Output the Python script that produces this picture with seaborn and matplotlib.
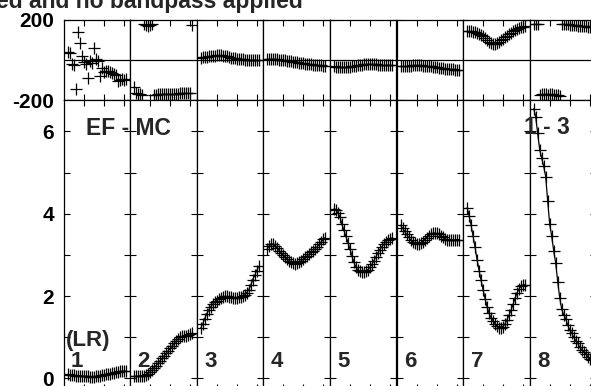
import matplotlib
matplotlib.use("Agg")
import matplotlib.pyplot as plt
import seaborn as sns

# channel numbers inside each spectral window
channels = list(range(2, 32))
spw_labels = ["1", "2", "3", "4", "5", "6", "7", "8"]

# amplitude per spectral window
amp_1 = [0.10, 0.09, 0.08, 0.08, 0.07, 0.07, 0.06, 0.06, 0.05, 0.05, 0.05, 0.04, 0.04, 0.04, 0.05,
         0.06, 0.07, 0.08, 0.09, 0.10, 0.11, 0.12, 0.13, 0.14, 0.15, 0.16, 0.17, 0.17, 0.18, 0.18]
amp_2 = [0.05, 0.05, 0.05, 0.06, 0.06, 0.07, 0.09, 0.12, 0.16, 0.21, 0.26, 0.31, 0.37, 0.43, 0.49,
         0.55, 0.61, 0.67, 0.73, 0.79, 0.85, 0.91, 0.96, 1.00, 1.02, 1.03, 1.04, 1.05, 1.07, 1.10]
amp_3 = [1.22, 1.32, 1.45, 1.57, 1.66, 1.74, 1.80, 1.85, 1.89, 1.93, 1.96, 1.98, 1.99, 1.99, 1.98,
         1.97, 1.96, 1.96, 1.96, 1.97, 1.98, 2.00, 2.03, 2.08, 2.15, 2.26, 2.40, 2.50, 2.62, 2.72]
amp_4 = [3.15, 3.22, 3.27, 3.26, 3.22, 3.16, 3.10, 3.05, 3.00, 2.95, 2.90, 2.86, 2.82, 2.80, 2.79,
         2.80, 2.82, 2.86, 2.90, 2.94, 2.98, 3.02, 3.06, 3.10, 3.15, 3.20, 3.26, 3.32, 3.38, 3.42]
amp_5 = [4.12, 4.10, 4.02, 3.92, 3.75, 3.60, 3.45, 3.30, 3.15, 2.98, 2.82, 2.70, 2.63, 2.60, 2.59,
         2.59, 2.60, 2.64, 2.70, 2.77, 2.86, 2.95, 3.05, 3.13, 3.20, 3.26, 3.32, 3.36, 3.39, 3.41]
amp_6 = [3.72, 3.65, 3.58, 3.50, 3.43, 3.37, 3.32, 3.28, 3.26, 3.26, 3.28, 3.32, 3.37, 3.42, 3.47,
         3.50, 3.52, 3.53, 3.52, 3.50, 3.47, 3.43, 3.39, 3.37, 3.36, 3.36, 3.36, 3.36, 3.37, 3.37]
amp_7 = [4.15, 3.95, 3.72, 3.45, 3.18, 2.88, 2.62, 2.38, 2.15, 1.93, 1.74, 1.58, 1.47, 1.40, 1.33,
         1.27, 1.23, 1.22, 1.26, 1.33, 1.43, 1.54, 1.66, 1.80, 1.95, 2.08, 2.18, 2.24, 2.27, 2.28]
amp_8 = [6.55, 6.35, 5.95, 5.55, 5.35, 5.15, 4.90, 4.30, 3.75, 3.45, 3.10, 2.80, 2.35, 1.96, 1.68,
         1.55, 1.45, 1.30, 1.18, 1.10, 1.00, 0.92, 0.85, 0.76, 0.70, 0.64, 0.60, 0.53, 0.48, 0.44]

# phase in degrees per spectral window
phase_1 = [40, 35, -20, -25, -145, 140, 85, 20, -10, -20, -90, -5, -15, 58, 5,
           -8, -80, -40, -60, -55, -58, -60, -65, -70, -75, -105, -100, -95, -100, -98]
phase_2 = [-135, -165, -170, -172, -175, 178, 172, 170, 174, 176, -176, -174, -172, -170, -171,
           -170, -169, -170, -171, -170, -169, -168, -168, -167, -167, -166, -166, -165, -165, 174]
phase_3 = [10, 12, 14, 16, 18, 19, 20, 21, 22, 22, 22, 21, 19, 17, 14,
           11, 9, 7, 5, 4, 3, 2, 1, 1, 0, 0, -1, -1, -1, -1]
phase_4 = [5, 5, 4, 4, 3, 2, 1, 0, -1, -3, -5, -6, -8, -10, -11,
           -13, -14, -16, -17, -19, -20, -22, -23, -24, -25, -26, -27, -28, -29, -30]
phase_5 = [-32, -34, -36, -37, -38, -38, -37, -36, -35, -33, -31, -29, -27, -25, -24,
           -23, -22, -22, -22, -22, -23, -23, -24, -25, -26, -27, -27, -28, -28, -28]
phase_6 = [-32, -31, -30, -30, -29, -29, -28, -28, -28, -28, -28, -29, -29, -30, -31,
           -32, -34, -36, -38, -40, -41, -43, -44, -45, -46, -47, -48, -49, -50, -50]
phase_7 = [145, 143, 141, 139, 137, 134, 130, 124, 116, 106, 96, 88, 83, 80, 80,
           82, 88, 96, 104, 112, 120, 128, 135, 142, 148, 153, 158, 161, 164, 166]
phase_8 = [178, 176, 180, -175, -172, -170, -171, -173, -170, -172, -174, -176, -177, -178, 179,
           178, 177, 176, 175, 174, 172, 171, 170, 169, 168, 167, 166, 165, 164, 162]

amps = [amp_1, amp_2, amp_3, amp_4, amp_5, amp_6, amp_7, amp_8]
phases = [phase_1, phase_2, phase_3, phase_4, phase_5, phase_6, phase_7, phase_8]

sns.set_style("ticks")
plt.rcParams["font.family"] = ["Liberation Sans", "DejaVu Sans"]
plt.rcParams["font.weight"] = "bold"

W, H = 591, 386
fig = plt.figure(figsize=(W / 100, H / 100), dpi=100)


def fx(px):
    return px / W


def fy(py):
    return 1 - py / H


x0, pw = 63.5, 66.6
for i in range(8):
    left = fx(x0 + i * pw)
    axp = fig.add_axes([left, fy(100), pw / W, 80.5 / H])
    axa = fig.add_axes([left, fy(390), pw / W, 290 / H])

    sns.scatterplot(x=channels, y=phases[i], ax=axp, marker="+", s=72,
                    color="k", linewidth=0.9)
    axp.axhline(0, color="k", lw=0.9)
    sns.lineplot(x=channels, y=amps[i], ax=axa, color="k", lw=0.9, marker="+",
                 markersize=8.5, markeredgewidth=0.9, markeredgecolor="k")

    for ax in (axp, axa):
        ax.set_xlim(0, 33.3)
        ax.set_xticks([10, 20, 30])
        ax.set_xticklabels([])
        ax.set_xlabel("")
        ax.set_ylabel("")
        ax.tick_params(direction="in", top=True, right=True, length=4.5,
                       width=0.8, colors="k", labelsize=15, pad=7)
        for s in ax.spines.values():
            s.set_linewidth(0.9)
            s.set_color("k")

    axp.set_ylim(-200, 200)
    axp.set_yticks([-200, 200])
    axa.set_ylim(-0.28, 6.76)
    axa.set_yticks(range(7))
    if i == 0:
        axp.set_yticklabels(["-200", "200"])
        axa.set_yticklabels(["0", "", "2", "", "4", "", "6"])
    else:
        axp.set_yticklabels([])
        axa.set_yticklabels([])

    fig.text(fx(x0 + i * pw + 7.5), fy(367), spw_labels[i], fontsize=16,
             va="baseline", ha="left")

fig.text(fx(66), fy(346), "(LR)", fontsize=16, va="baseline", ha="left")
fig.text(fx(85.5), fy(135), "EF - MC", fontsize=16.5, va="baseline", ha="left")
fig.text(fx(524.5), fy(134), "1 - 3", fontsize=16.5, va="baseline", ha="left")
fig.text(fx(-4), fy(8), "ed and no bandpass applied", fontsize=16.5,
         va="baseline", ha="left")

fig.savefig("out.png", dpi=100)
